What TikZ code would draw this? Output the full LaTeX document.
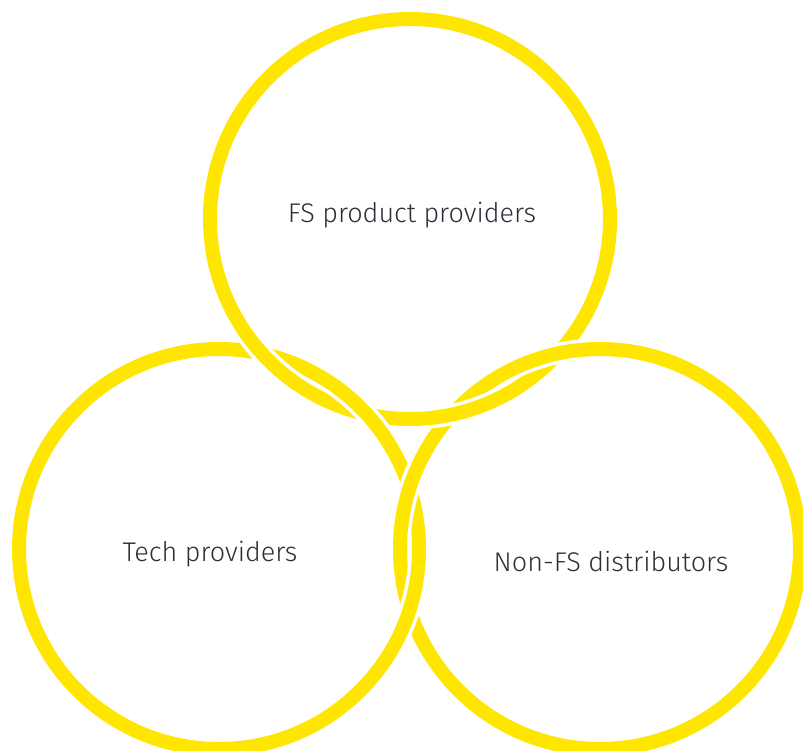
\documentclass[tikz,border=0pt]{standalone}
\usepackage{fontspec}
\setmainfont{Fira Sans}[UprightFont=* Light]
\definecolor{eyyellow}{HTML}{FFE600}
\definecolor{eytext}{HTML}{2E2E38}
\begin{document}
\begin{tikzpicture}[x=1pt,y=-1pt,
  ringcase/.style={draw=white, line width=21pt},
  ringline/.style={draw=eyyellow, line width=14pt},
  txt/.style={text=eytext, font=\fontsize{27}{32}\selectfont, inner sep=0pt, anchor=base}]
\useasboundingbox (0,0) rectangle (803,751);
\clip (0,0) rectangle (803,751);
\coordinate (T) at (410,219);
\coordinate (L) at (219,549);
\coordinate (R) at (600,549);
\foreach \ringc in {L,R,T}{
  \path[ringcase] (\ringc) circle[radius=200pt];
  \path[ringline] (\ringc) circle[radius=200pt];
}
\coordinate (xTL) at (366.8,414.3);
\coordinate (xTR) at (558,353.5);
\coordinate (xLR) at (409.5,609.9);
\begin{scope}
  \clip (xTL) circle[radius=45pt];
  \path[ringcase] (L) circle[radius=200pt];
  \path[ringline] (L) circle[radius=200pt];
\end{scope}
\begin{scope}
  \clip (xTR) circle[radius=45pt];
  \path[ringcase] (R) circle[radius=200pt];
  \path[ringline] (R) circle[radius=200pt];
\end{scope}
\begin{scope}
  \clip (xLR) circle[radius=45pt];
  \path[ringcase] (L) circle[radius=200pt];
  \path[ringline] (L) circle[radius=200pt];
\end{scope}
\node[txt] (tFS) at (412,223) {FS product providers};
\node[txt] (tTech) at (210,561) {Tech providers};
\node[txt] (tNon) at (611,571) {Non-FS distributors};
\end{tikzpicture}
\end{document}
